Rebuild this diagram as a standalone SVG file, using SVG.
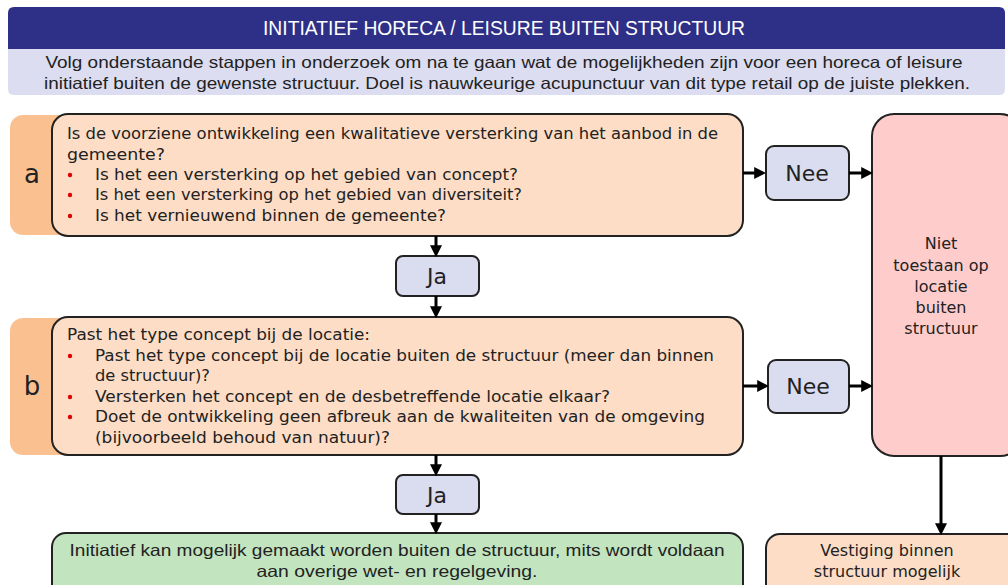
<svg xmlns="http://www.w3.org/2000/svg" width="1008" height="585" viewBox="0 0 1008 585">
<style>
.body{font-family:"DejaVu Sans","Liberation Sans",sans-serif;font-size:16px;fill:#222}
.cond{font-family:"Liberation Sans","DejaVu Sans",sans-serif;font-size:16.5px;fill:#222}
.ttl{font-family:"Liberation Sans","DejaVu Sans",sans-serif;font-size:21px;fill:#fff}
.lbl{font-family:"DejaVu Sans","Liberation Sans",sans-serif;font-size:22px;fill:#222}
.big{font-family:"DejaVu Sans","Liberation Sans",sans-serif;font-size:26px;fill:#222}
.box{fill:#FDDDC6;stroke:#222;stroke-width:2}
.yn{fill:#DADCF0;stroke:#222;stroke-width:2}
.tab{fill:#FAC090}
.bul{fill:#E00000}
.c{text-anchor:middle}
.conn{stroke:#000;stroke-width:3;fill:none;marker-end:url(#ah)}
</style>
<defs>
<marker id="ah" viewBox="0 0 10 10" refX="4" refY="5" markerWidth="12" markerHeight="12" markerUnits="userSpaceOnUse" orient="auto">
<path d="M0,0 L10,5 L0,10 z" fill="#000"/>
</marker>
</defs>
<rect width="1008" height="585" fill="#fff"/>

<g id="header">
<path d="M8,49 V13 Q8,7 14,7 H999 Q1005,7 1005,13 V49 z" fill="#2E3087"/>
<path d="M8,49 H1005 V89 Q1005,95 999,95 H14 Q8,95 8,89 z" fill="#DCDDF0"/>
<text class="ttl c" x="504" y="35" textLength="482" lengthAdjust="spacingAndGlyphs">INITIATIEF HORECA / LEISURE BUITEN STRUCTUUR</text>
<text class="cond c" x="504" y="68" textLength="917" lengthAdjust="spacingAndGlyphs">Volg onderstaande stappen in onderzoek om na te gaan wat de mogelijkheden zijn voor een horeca of leisure</text>
<text class="cond c" x="507" y="89" textLength="926" lengthAdjust="spacingAndGlyphs">initiatief buiten de gewenste structuur. Doel is nauwkeurige acupunctuur van dit type retail op de juiste plekken.</text>
</g>

<g id="stepA">
<rect class="tab" x="10" y="115" width="80" height="120" rx="13"/>
<text class="big c" x="32" y="183">a</text>
<rect class="box" x="52" y="114" width="691" height="122" rx="16"/>
<text class="body" x="67" y="139" textLength="651" lengthAdjust="spacingAndGlyphs">Is de voorziene ontwikkeling een kwalitatieve versterking van het aanbod in de</text>
<text class="body" x="67" y="160" textLength="98" lengthAdjust="spacingAndGlyphs">gemeente?</text>
<circle class="bul" cx="70" cy="175" r="2.2"/>
<text class="body" x="95" y="180" textLength="423" lengthAdjust="spacingAndGlyphs">Is het een versterking op het gebied van concept?</text>
<circle class="bul" cx="70" cy="195" r="2.2"/>
<text class="body" x="95" y="200" textLength="427" lengthAdjust="spacingAndGlyphs">Is het een versterking op het gebied van diversiteit?</text>
<circle class="bul" cx="70" cy="216" r="2.2"/>
<text class="body" x="95" y="221" textLength="351" lengthAdjust="spacingAndGlyphs">Is het vernieuwend binnen de gemeente?</text>
</g>

<g id="nee1">
<rect class="yn" x="766" y="146" width="83" height="54" rx="8"/>
<text class="lbl c" x="807" y="181">Nee</text>
</g>

<g id="ja1">
<rect class="yn" x="396" y="256" width="83" height="40" rx="7"/>
<text class="lbl c" x="437" y="284">Ja</text>
</g>

<g id="stepB">
<rect class="tab" x="10" y="318" width="80" height="137" rx="13"/>
<text class="big c" x="32" y="395">b</text>
<rect class="box" x="52" y="317" width="691" height="138" rx="16"/>
<text class="body" x="67" y="340" textLength="303" lengthAdjust="spacingAndGlyphs">Past het type concept bij de locatie:</text>
<circle class="bul" cx="70" cy="356" r="2.2"/>
<text class="body" x="95" y="361" textLength="619" lengthAdjust="spacingAndGlyphs">Past het type concept bij de locatie buiten de structuur (meer dan binnen</text>
<text class="body" x="95" y="381" textLength="115" lengthAdjust="spacingAndGlyphs">de structuur)?</text>
<circle class="bul" cx="70" cy="397" r="2.2"/>
<text class="body" x="95" y="402" textLength="515" lengthAdjust="spacingAndGlyphs">Versterken het concept en de desbetreffende locatie elkaar?</text>
<circle class="bul" cx="70" cy="417" r="2.2"/>
<text class="body" x="95" y="422" textLength="610" lengthAdjust="spacingAndGlyphs">Doet de ontwikkeling geen afbreuk aan de kwaliteiten van de omgeving</text>
<text class="body" x="95" y="443" textLength="295" lengthAdjust="spacingAndGlyphs">(bijvoorbeeld behoud van natuur)?</text>
</g>

<g id="nee2">
<rect class="yn" x="768" y="360" width="81" height="53" rx="8"/>
<text class="lbl c" x="808" y="394">Nee</text>
</g>

<g id="ja2">
<rect class="yn" x="396" y="475" width="83" height="39" rx="7"/>
<text class="lbl c" x="437" y="503">Ja</text>
</g>

<g id="niet">
<rect x="872" y="114" width="150" height="342" rx="22" fill="#FFCCCC" stroke="#222" stroke-width="2"/>
<text class="body c" x="941" y="249">Niet</text>
<text class="body c" x="941" y="271">toestaan op</text>
<text class="body c" x="941" y="292">locatie</text>
<text class="body c" x="941" y="313">buiten</text>
<text class="body c" x="941" y="334">structuur</text>
</g>

<g id="result">
<rect x="52" y="533" width="691" height="70" rx="14" fill="#C2E5C0" stroke="#222" stroke-width="2"/>
<text class="cond c" x="397" y="556" textLength="655" lengthAdjust="spacingAndGlyphs">Initiatief kan mogelijk gemaakt worden buiten de structuur, mits wordt voldaan</text>
<text class="cond c" x="397" y="577" textLength="281" lengthAdjust="spacingAndGlyphs">aan overige wet- en regelgeving.</text>
</g>

<g id="vestiging">
<rect x="766" y="534" width="260" height="70" rx="14" fill="#FDDDC6" stroke="#222" stroke-width="2"/>
<text class="body c" x="887" y="556">Vestiging binnen</text>
<text class="body c" x="887" y="577">structuur mogelijk</text>
</g>

<g id="connectors">
<line class="conn" x1="743" y1="173" x2="759" y2="173"/>
<line class="conn" x1="849" y1="173" x2="866" y2="173"/>
<line class="conn" x1="743" y1="386" x2="762" y2="386"/>
<line class="conn" x1="849" y1="386" x2="866" y2="386"/>
<line class="conn" x1="436" y1="236" x2="436" y2="250"/>
<line class="conn" x1="436" y1="296" x2="436" y2="311"/>
<line class="conn" x1="436" y1="455" x2="436" y2="469"/>
<line class="conn" x1="436" y1="514" x2="436" y2="527"/>
<line class="conn" x1="941" y1="456" x2="941" y2="528"/>
</g>
</svg>
